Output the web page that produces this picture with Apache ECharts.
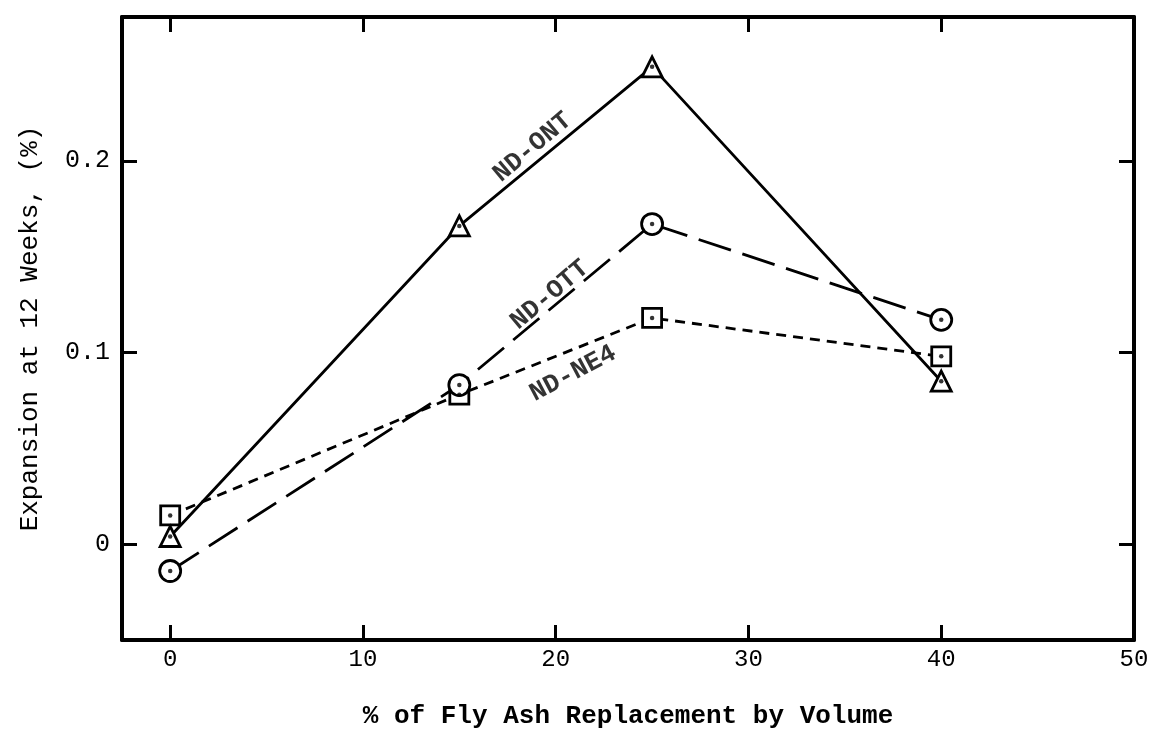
<!DOCTYPE html>
<html>
<head>
<meta charset="utf-8">
<script src="https://cdn.jsdelivr.net/npm/echarts@6/dist/echarts.min.js"></script>
<style>
  html, body { margin: 0; padding: 0; background: #fff; }
  #chart { width: 1153px; height: 734px; }
</style>
</head>
<body>
<div id="chart"></div>
<script>
// Fly ash replacement levels (% by volume)
const flyAsh = [0, 15, 25, 40];
// Expansion at 12 weeks (%) for each aggregate
const ndOnt = [0.004, 0.166, 0.249, 0.085];
const ndOtt = [-0.014, 0.083, 0.167, 0.117];
const ndNe4 = [0.015, 0.078, 0.118, 0.098];

// Tick positions / labels
const xTicks = [0, 10, 20, 30, 40];
const xLabels = [0, 10, 20, 30, 40, 50];
const yTicks = [0, 0.1, 0.2];

// Series name labels: [x, y, text, angle]
const seriesTags = [
  [18.8, 0.207, 'ND-ONT', 40],
  [19.7, 0.130, 'ND-OTT', 40],
  [20.9, 0.089, 'ND-NE4', 28]
];

const mono = '"Liberation Mono", "DejaVu Sans Mono", monospace';
const pairs = ys => flyAsh.map((x, i) => [x, ys[i]]);

function lineSeries(name, ys, symbol, size, lineType) {
  return {
    name: name,
    type: 'line',
    data: pairs(ys),
    symbol: symbol,
    symbolSize: size,
    showAllSymbol: true,
    lineStyle: { color: '#000', width: 2.8, type: lineType },
    itemStyle: { color: '#fff', borderColor: '#000', borderWidth: 2.8 },
    emphasis: { disabled: true },
    z: 3
  };
}

function dotSeries(ys) {
  return {
    type: 'scatter',
    data: pairs(ys),
    symbol: 'circle',
    symbolSize: 4.5,
    itemStyle: { color: '#000' },
    silent: true,
    z: 5
  };
}

const axisLineStyle = { show: true, onZero: false, lineStyle: { color: '#000', width: 4 } };

const chart = echarts.init(document.getElementById('chart'), null, { renderer: 'canvas' });
chart.setOption({
  animation: false,
  backgroundColor: '#fff',
  grid: { left: 122, right: 19, top: 17, bottom: 92 },
  xAxis: [
    {
      type: 'value', position: 'bottom', min: -2.5, max: 50,
      axisLine: axisLineStyle,
      axisTick: { show: true, inside: true, length: 15, customValues: xTicks,
                  lineStyle: { color: '#000', width: 3 } },
      axisLabel: { customValues: xLabels, color: '#000', fontFamily: mono,
                   fontSize: 24, margin: 8 },
      splitLine: { show: false },
      name: '% of Fly Ash Replacement by Volume',
      nameLocation: 'middle', nameGap: 63,
      nameTextStyle: { color: '#000', fontFamily: mono, fontSize: 26, fontWeight: 'bold' }
    },
    {
      type: 'value', position: 'top', min: -2.5, max: 50,
      axisLine: axisLineStyle,
      axisTick: { show: true, inside: true, length: 15, customValues: xTicks,
                  lineStyle: { color: '#000', width: 3 } },
      axisLabel: { show: false },
      splitLine: { show: false }
    }
  ],
  yAxis: [
    {
      type: 'value', position: 'left', min: -0.05, max: 0.275,
      axisLine: axisLineStyle,
      axisTick: { show: true, inside: true, length: 15, customValues: yTicks,
                  lineStyle: { color: '#000', width: 3 } },
      axisLabel: { customValues: yTicks, color: '#000', fontFamily: mono,
                   fontSize: 25, margin: 12,
                   formatter: v => (v === 0 ? '0' : v.toFixed(1)) },
      splitLine: { show: false },
      name: 'Expansion at 12 Weeks, (%)',
      nameLocation: 'middle', nameGap: 79,
      nameTextStyle: { color: '#000', fontFamily: mono, fontSize: 26 }
    },
    {
      type: 'value', position: 'right', min: -0.05, max: 0.275,
      axisLine: axisLineStyle,
      axisTick: { show: true, inside: true, length: 15, customValues: yTicks,
                  lineStyle: { color: '#000', width: 3 } },
      axisLabel: { show: false },
      splitLine: { show: false }
    }
  ],
  series: [
    lineSeries('ND-NE4', ndNe4, 'rect', 19, [10, 7]),
    lineSeries('ND-OTT', ndOtt, 'circle', 21, [34, 12]),
    lineSeries('ND-ONT', ndOnt, 'triangle', 20, 'solid'),
    dotSeries(ndNe4),
    dotSeries(ndOtt),
    dotSeries(ndOnt),
    {
      type: 'scatter',
      data: seriesTags.map(t => ({ value: [t[0], t[1]], name: t[2],
        label: { rotate: t[3] } })),
      symbolSize: 1,
      itemStyle: { color: 'rgba(0,0,0,0)' },
      silent: true,
      label: {
        show: true, position: 'inside', formatter: p => p.name,
        color: '#000', fontFamily: mono, fontSize: 26, fontWeight: 'bold'
      },
      z: 6
    }
  ]
});
</script>
</body>
</html>
